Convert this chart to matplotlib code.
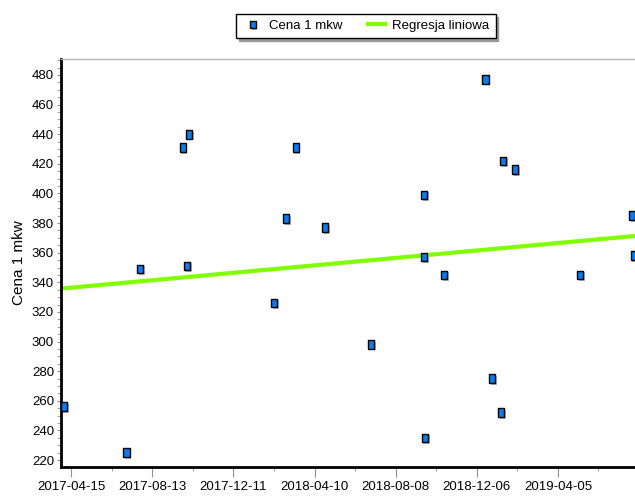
import numpy as np
import pandas as pd
import matplotlib
matplotlib.use("Agg")
import matplotlib.pyplot as plt
import matplotlib.dates as mdates
import matplotlib.patheffects as pe
from matplotlib.ticker import MultipleLocator

# ceny za 1 mkw
dates = ["2017-04-05", "2017-07-06", "2017-07-26", "2017-09-27", "2017-10-06",
         "2017-10-03", "2018-02-09", "2018-02-27", "2018-03-13", "2018-04-26",
         "2018-07-03", "2018-09-19", "2018-09-19", "2018-09-20", "2018-10-19",
         "2018-12-19", "2018-12-29", "2019-01-11", "2019-01-14", "2019-02-01",
         "2019-05-08", "2019-07-24", "2019-07-26"]
prices = [256, 225, 349, 431, 440,
          351, 326, 383, 431, 377,
          298, 399, 357, 235, 345,
          477, 275, 252, 422, 416,
          345, 385, 358]

# regresja liniowa - konce odcinka
reg_dates = ["2017-04-03", "2019-07-28"]
reg_values = [335.9, 371.3]

tick_labels = ["2017-04-15", "2017-08-13", "2017-12-11", "2018-04-10",
               "2018-08-08", "2018-12-06", "2019-04-05"]

plt.rcParams["font.family"] = ["Liberation Sans", "DejaVu Sans"]

x = mdates.date2num(pd.to_datetime(dates))
xr = mdates.date2num(pd.to_datetime(reg_dates))
xt = mdates.date2num(pd.to_datetime(tick_labels))

fig = plt.figure(figsize=(6.35, 4.97), dpi=100)
ax = fig.add_axes([61 / 635, 30 / 497, 1 - 61 / 635, 408 / 497])

rect = [(-0.72, -1), (0.72, -1), (0.72, 1), (-0.72, 1), (-0.72, -1)]
shadow = [pe.SimplePatchShadow(offset=(1.2, -1.2), shadow_rgbFace="#b0b0b0", alpha=0.9), pe.Normal()]

ax.plot(xr, reg_values, color="#80ff00", lw=3, solid_capstyle="butt",
        label="Regresja liniowa", zorder=2)
ax.plot(x, prices, ls="none", marker=rect, ms=6.2, mfc="#0a7cf0", mec="black",
        mew=1.0, label="Cena 1 mkw", zorder=3, path_effects=shadow)

ax.set_xlim(mdates.date2num(pd.Timestamp("2017-03-31")), mdates.date2num(pd.Timestamp("2019-07-28")))
ax.set_ylim(215.3, 490.8)

ax.set_xticks(xt)
ax.set_xticklabels(tick_labels)
ax.set_xticks(list(xt + 60), minor=True)
ax.yaxis.set_major_locator(MultipleLocator(20))
ax.yaxis.set_minor_locator(MultipleLocator(5))

ax.tick_params(axis="both", which="major", direction="out", color="#909090",
               width=0.8, labelsize=9.5, labelcolor="black", pad=2)
ax.tick_params(axis="x", which="major", length=7, pad=3)
ax.tick_params(axis="y", which="major", length=3)
ax.tick_params(axis="both", which="minor", direction="out", color="#a0a0a0",
               width=0.7, length=3)

ax.spines["left"].set_linewidth(2)
ax.spines["bottom"].set_linewidth(2)
ax.spines["right"].set_visible(False)
ax.spines["top"].set_color("#b8b8b8")
ax.spines["top"].set_linewidth(1)

ax.set_ylabel("Cena 1 mkw", fontsize=11, labelpad=4)

handles, labels = ax.get_legend_handles_labels()
leg = fig.legend(handles[::-1], labels[::-1], loc="center", bbox_to_anchor=(366 / 635, 1 - 26 / 497),
                 ncol=2, frameon=True, fancybox=False, shadow={"color": "#999999", "alpha": 1},
                 fontsize=9.5, handlelength=1.6, columnspacing=1.8, borderpad=0.45,
                 handletextpad=0.4, borderaxespad=0, markerscale=0.85)
leg.get_frame().set_edgecolor("black")
leg.get_frame().set_linewidth(1)

fig.savefig("out.png", dpi=100)
